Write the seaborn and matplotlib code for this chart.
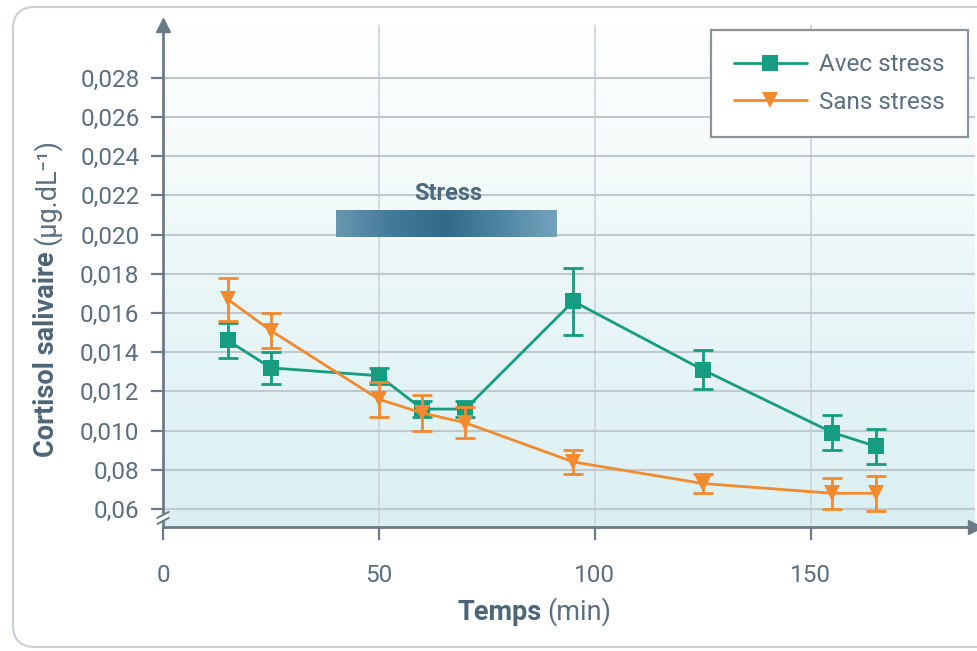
import numpy as np
import pandas as pd
import matplotlib
matplotlib.use("Agg")
import matplotlib.pyplot as plt
import seaborn as sns
from matplotlib import font_manager as fm
from matplotlib import patches, transforms
from matplotlib.colors import LinearSegmentedColormap

# ---------------- data ----------------
time_min = [15, 25, 50, 60, 70, 95, 125, 155, 165]
avec_stress = [0.0146, 0.0132, 0.0128, 0.0111, 0.0111, 0.0166, 0.0131, 0.0099, 0.0092]
avec_err = [0.0009, 0.0008, 0.0004, 0.0004, 0.0004, 0.0017, 0.0010, 0.0009, 0.0009]
sans_stress = [0.0167, 0.0151, 0.0116, 0.0109, 0.0104, 0.0084, 0.0073, 0.0068, 0.0068]
sans_err = [0.0011, 0.0009, 0.0009, 0.0009, 0.0008, 0.0006, 0.0005, 0.0008, 0.0009]
series_names = ["Avec stress", "Sans stress"]
y_ticks = [0.006, 0.008, 0.010, 0.012, 0.014, 0.016, 0.018, 0.020, 0.022, 0.024, 0.026, 0.028]
y_ticklabels = ["0,06", "0,08", "0,010", "0,012", "0,014", "0,016", "0,018",
                "0,020", "0,022", "0,024", "0,026", "0,028"]
x_ticks = [0, 50, 100, 150]
stress_start, stress_end = 40, 91
stress_label = "Stress"
ylabel_bold, ylabel_rest = "Cortisol salivaire", "(µg.dL⁻¹)"
xlabel_bold, xlabel_rest = "Temps", "(min)"

# ---------------- fonts ----------------
def pick(names):
    for n in names:
        try:
            fm.findfont(fm.FontProperties(family=n), fallback_to_default=False)
            return n
        except Exception:
            pass
    return "DejaVu Sans"

sns.set_theme(style="white")
FONT = pick(["Roboto", "Liberation Sans", "Open Sans"])
plt.rcParams["font.family"] = [FONT, "DejaVu Sans"]

TEAL = "#169c80"
ORANGE = "#f28a2e"
AXC = "#6a7b87"
TXT = "#5a6f80"
LBL = "#4d6578"
GRID = "#bfc8cd"

fig = plt.figure(figsize=(9.78, 6.51), dpi=100)
fig.patch.set_facecolor("white")
ax = fig.add_axes([163 / 978, 124 / 651, 812 / 978, 502 / 651])
ax.set_facecolor("white")

# background gradient
grad = np.linspace(0, 1, 256).reshape(-1, 1)
bg_cmap = LinearSegmentedColormap.from_list(
    "bg", [(0.0, "#dbeff2"), (0.45, "#e9f6f7"), (0.8, "#f8fcfc"), (1.0, "#ffffff")])
ax.imshow(grad, cmap=bg_cmap, extent=[0, 1, 0, 1], transform=ax.transAxes,
          aspect="auto", origin="lower", zorder=0)

# data frame
df = pd.DataFrame({
    "Temps": time_min * 2,
    "Cortisol": avec_stress + sans_stress,
    "Condition": [series_names[0]] * len(time_min) + [series_names[1]] * len(time_min),
})
palette = {series_names[0]: TEAL, series_names[1]: ORANGE}
markers = {series_names[0]: "s", series_names[1]: "v"}

for name, vals, err in [(series_names[0], avec_stress, avec_err),
                        (series_names[1], sans_stress, sans_err)]:
    z = 3 if name == series_names[0] else 5
    ax.errorbar(time_min, vals, yerr=err, fmt="none", ecolor=palette[name],
                elinewidth=2, capsize=7, capthick=2, zorder=z)
    sub = df[df["Condition"] == name]
    sns.lineplot(data=sub, x="Temps", y="Cortisol", color=palette[name],
                 marker=markers[name], markersize=12, markeredgewidth=0,
                 linewidth=2, ax=ax, label=name, zorder=z + 1, errorbar=None)
ax.set_xlabel("")
ax.set_ylabel("")

# stress bar with gradient
bar_cmap = LinearSegmentedColormap.from_list("bar", ["#6798b0", "#43799a", "#336a8a", "#4f86a3", "#73a3bb"])
ax.imshow(np.linspace(0, 1, 256).reshape(1, -1), cmap=bar_cmap,
          extent=[stress_start, stress_end, 0.01988, 0.02122], aspect="auto", zorder=2)
ax.text((stress_start + stress_end) / 2 + 0.5, 0.0215, stress_label, ha="center", va="bottom",
        fontsize=17, fontweight="bold", color="#4d6a7e", zorder=6)

ax.set_xlim(0, 188)
ax.set_ylim(0.00508, 0.0307)

ax.set_yticks(y_ticks)
ax.set_yticklabels(y_ticklabels)
ax.set_xticks(x_ticks)
ax.set_xticklabels([str(t) for t in x_ticks])

ax.yaxis.grid(True, color=GRID, linewidth=1.5, zorder=1)
ax.xaxis.grid(True, color="#ccd3d7", linewidth=1.2, zorder=1)
ax.set_axisbelow(True)

for s in ["top", "right"]:
    ax.spines[s].set_visible(False)
for s in ["left", "bottom"]:
    ax.spines[s].set_color(AXC)
    ax.spines[s].set_linewidth(2)
    ax.spines[s].set_zorder(7)

ax.tick_params(axis="y", length=9, width=1.6, color=AXC, pad=8, labelsize=17.5,
               labelcolor=TXT, left=True)
ax.tick_params(axis="x", length=9, width=1.6, color=AXC, pad=18, labelsize=17.5,
               labelcolor=TXT, bottom=True)

# arrows
ax.plot([0], [1], marker="^", markersize=10, color=AXC, transform=ax.transAxes,
        clip_on=False, zorder=8)
ax.plot([1], [0], marker=">", markersize=10, color=AXC, transform=ax.transAxes,
        clip_on=False, zorder=8)

# axis break marker on y axis
ax.add_patch(patches.Rectangle((-0.006, 0.014), 0.012, 0.012, transform=ax.transAxes,
                               facecolor="white", edgecolor="none", clip_on=False, zorder=9))
for dy in (0.012, 0.024):
    ax.plot([-0.007, 0.007], [dy - 0.006, dy + 0.006], color=AXC, lw=1.4,
            transform=ax.transAxes, clip_on=False, zorder=10)

# legend
leg = ax.legend(loc="upper right", bbox_to_anchor=(0.991, 0.99), fontsize=17.5,
                frameon=True, fancybox=False, handlelength=3.0, borderpad=0.95,
                labelspacing=0.6, handletextpad=0.5, borderaxespad=0)
leg.get_frame().set_edgecolor("#8a9399")
leg.get_frame().set_linewidth(1.6)
leg.get_frame().set_facecolor("white")
leg.get_frame().set_alpha(1)
for t in leg.get_texts():
    t.set_color(TXT)
leg.set_zorder(12)

# axis labels: bold part + regular part, placed in pixel space
ident = transforms.IdentityTransform()
H = 651
fig.canvas.draw()
renderer = fig.canvas.get_renderer()
lab_size = 19.5
# y label
yb = fig.text(47, H - 457, ylabel_bold, transform=ident, rotation=90, rotation_mode="anchor",
              ha="left", va="center", fontsize=lab_size, fontweight="bold", color=LBL)
ext = yb.get_window_extent(renderer)
fig.text(47, ext.y1 + 6, ylabel_rest, transform=ident, rotation=90, rotation_mode="anchor",
         ha="left", va="center", fontsize=lab_size, color=TXT)
# x label
xb = fig.text(458, H - 612, xlabel_bold, transform=ident, ha="left", va="center",
              fontsize=lab_size, fontweight="bold", color=LBL)
ext = xb.get_window_extent(renderer)
fig.text(ext.x1 + 5, H - 612, xlabel_rest, transform=ident, ha="left", va="center",
         fontsize=lab_size, color=TXT)

# rounded outer frame
frame = patches.FancyBboxPatch((13, 4), 1000, 640,
                               boxstyle="round,pad=0,rounding_size=22",
                               transform=ident,
                               facecolor="none", edgecolor="#c9cfd3", linewidth=1.5)
fig.add_artist(frame)

fig.savefig("out.png", dpi=100)
